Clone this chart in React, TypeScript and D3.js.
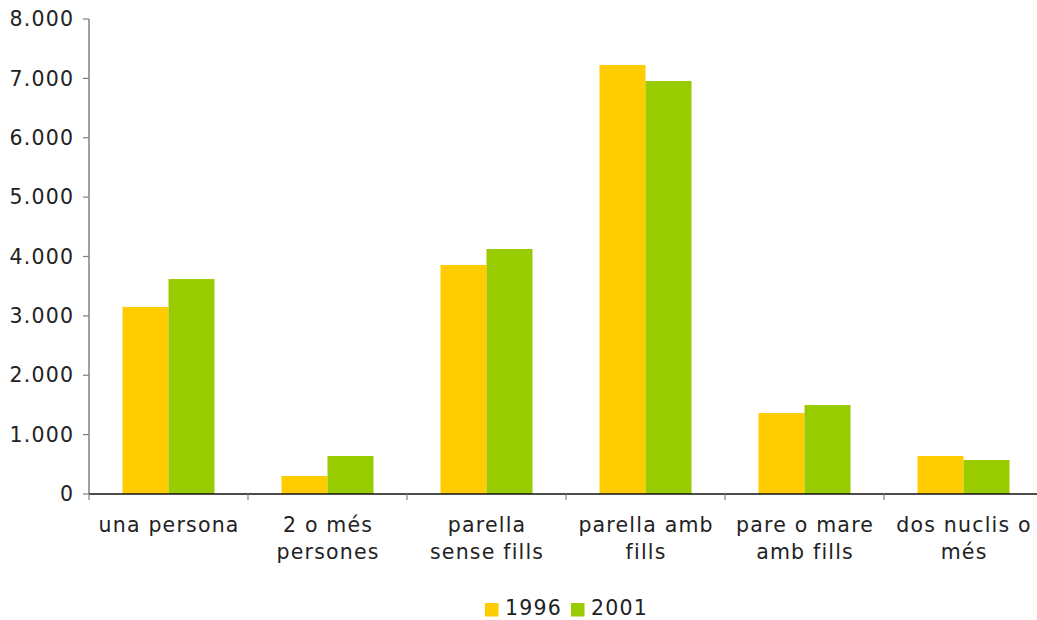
import React from "react";
import * as d3 from "d3";

const categories = [
  ["una persona"],
  ["2 o més", "persones"],
  ["parella", "sense fills"],
  ["parella amb", "fills"],
  ["pare o mare", "amb fills"],
  ["dos nuclis o", "més"],
];
const seriesNames = ["1996", "2001"];
const values1996 = [3150, 303, 3857, 7225, 1364, 640];
const values2001 = [3620, 640, 4126, 6956, 1499, 573];
const yTicks = [0, 1000, 2000, 3000, 4000, 5000, 6000, 7000, 8000];
const colors = ["#FFCC00", "#99CC00"];

const W = 1037;
const H = 620;
const left = 89;
const right = 1043;
const top = 19;
const bottom = 494;
const font = "'DejaVu Sans', Verdana, sans-serif";
const fs = 20.5;
const ls = 1.2;

export default function App() {
  const x = d3.scaleBand<number>().domain(d3.range(categories.length)).range([left, right]).padding(0);
  const inner = d3.scaleBand<number>().domain([0, 1]).range([0, x.bandwidth()]).paddingInner(0).paddingOuter(0.728);
  const y = d3.scaleLinear().domain([0, 8000]).range([bottom, top]);
  const fmt = (v: number) => d3.format(",")(v).replace(/,/g, ".");
  const series = [values1996, values2001];

  return (
    <svg width={W} height={H} style={{ position: "absolute", left: 0, top: 0, background: "#fff" }} fontFamily={font}>
      {series.map((vals, si) =>
        vals.map((v, i) => (
          <rect
            key={`${si}-${i}`}
            x={(x(i) as number) + (inner(si) as number)}
            y={y(v)}
            width={inner.bandwidth()}
            height={y(0) - y(v)}
            fill={colors[si]}
          />
        ))
      )}
      {/* y axis */}
      <line x1={left} x2={left} y1={top} y2={bottom} stroke="#808080" strokeWidth={1.5} />
      {yTicks.map((t) => (
        <g key={t}>
          <line x1={left - 6} x2={left} y1={y(t)} y2={y(t)} stroke="#808080" strokeWidth={1.2} />
          <text x={left - 16 + ls} y={y(t)} dy="0.35em" textAnchor="end" fontSize={fs} letterSpacing={ls} fill="#222">
            {fmt(t)}
          </text>
        </g>
      ))}
      {/* x axis */}
      <line x1={left} x2={right} y1={bottom} y2={bottom} stroke="#111" strokeWidth={1.5} />
      {d3.range(categories.length + 1).map((i) => {
        const xv = i < categories.length ? (x(i) as number) : right;
        return <line key={i} x1={xv} x2={xv} y1={bottom} y2={bottom + 6} stroke="#808080" strokeWidth={1.2} />;
      })}
      {categories.map((lines, i) => (
        <text key={i} textAnchor="middle" fontSize={fs} letterSpacing={ls} fill="#222">
          {lines.map((l, j) => (
            <tspan key={j} x={(x(i) as number) + x.bandwidth() / 2 + ls / 2} y={532 + j * 27}>
              {l}
            </tspan>
          ))}
        </text>
      ))}
      {/* legend */}
      {seriesNames.map((n, i) => (
        <g key={n} transform={`translate(${485 + i * 86},0)`}>
          <rect x={0} y={603} width={13.5} height={13.5} fill={colors[i]} />
          <text x={20} y={615} fontSize={fs} letterSpacing={ls} fill="#222">
            {n}
          </text>
        </g>
      ))}
    </svg>
  );
}
